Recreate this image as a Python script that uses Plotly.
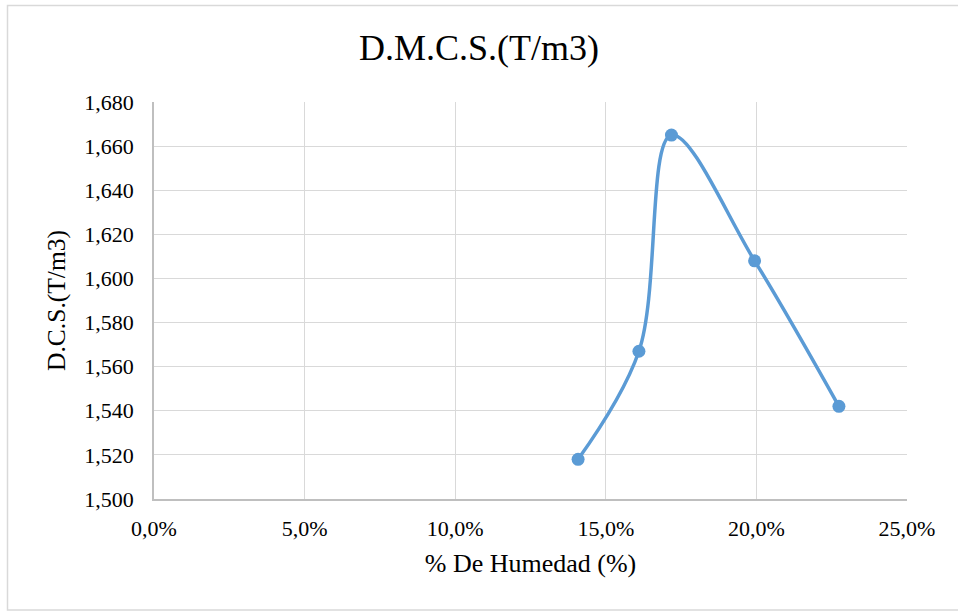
import plotly.graph_objects as go

# Data
humedad = [0.1408, 0.1610, 0.1718, 0.1994, 0.2274]
dcs = [1.518, 1.567, 1.665, 1.608, 1.542]

x_ticks = [0.0, 0.05, 0.10, 0.15, 0.20, 0.25]
x_tick_labels = ["0,0%", "5,0%", "10,0%", "15,0%", "20,0%", "25,0%"]
y_ticks = [1.500, 1.520, 1.540, 1.560, 1.580, 1.600, 1.620, 1.640, 1.660, 1.680]
y_tick_labels = ["1,500", "1,520", "1,540", "1,560", "1,580", "1,600", "1,620", "1,640", "1,660", "1,680"]

W, H = 958, 611
ML, MR, MT, MB = 154, 51, 102, 112
pw = W - ML - MR
ph = H - MT - MB

FONT = "Liberation Serif"
BLUE = "#5B9BD5"

fig = go.Figure()
fig.add_trace(go.Scatter(
    x=humedad, y=dcs, mode="lines+markers",
    line=dict(color=BLUE, width=3.5, shape="spline", smoothing=1.0),
    marker=dict(color=BLUE, size=13),
    showlegend=False, hoverinfo="x+y",
))

# figure border (light grey), as in the reference
bx0 = (7.5 - ML) / pw
bx1 = (W + 20 - ML) / pw
by1 = (H - MB - 5.5) / ph
by0 = (H - MB - 610) / ph
fig.add_shape(type="rect", xref="paper", yref="paper",
              x0=bx0, x1=bx1, y0=by0, y1=by1,
              line=dict(color="#d9d9d9", width=1.5), layer="below")

fig.update_layout(
    width=W, height=H,
    margin=dict(l=ML, r=MR, t=MT, b=MB),
    paper_bgcolor="white", plot_bgcolor="white",
    font=dict(family=FONT, color="#000000", size=22),
    title=dict(text="D.M.C.S.(T/m3)", x=0.5, xanchor="center",
               y=1 - 47 / H, yanchor="middle",
               font=dict(family=FONT, size=36, color="#000000")),
    xaxis=dict(
        range=[0, 0.25], tickvals=x_ticks, ticktext=x_tick_labels,
        showgrid=True, gridcolor="#d9d9d9", gridwidth=1.3,
        showline=True, linecolor="#bfbfbf", linewidth=1.5,
        zeroline=False, ticks="", ticklen=0, ticklabelstandoff=9,
        tickfont=dict(family=FONT, size=22, color="#000000"),
        title=dict(text="% De Humedad (%)", standoff=14,
                   font=dict(family=FONT, size=26, color="#000000")),
    ),
    yaxis=dict(
        range=[1.500, 1.680], tickvals=y_ticks, ticktext=y_tick_labels,
        showgrid=True, gridcolor="#d9d9d9", gridwidth=1.3,
        showline=True, linecolor="#bfbfbf", linewidth=1.5,
        zeroline=False, ticks="", ticklen=0, ticklabelstandoff=14,
        tickfont=dict(family=FONT, size=22, color="#000000"),
        title=dict(text="D.C.S.(T/m3)", standoff=11,
                   font=dict(family=FONT, size=25.5, color="#000000")),
    ),
)

fig.write_html("out.html")
